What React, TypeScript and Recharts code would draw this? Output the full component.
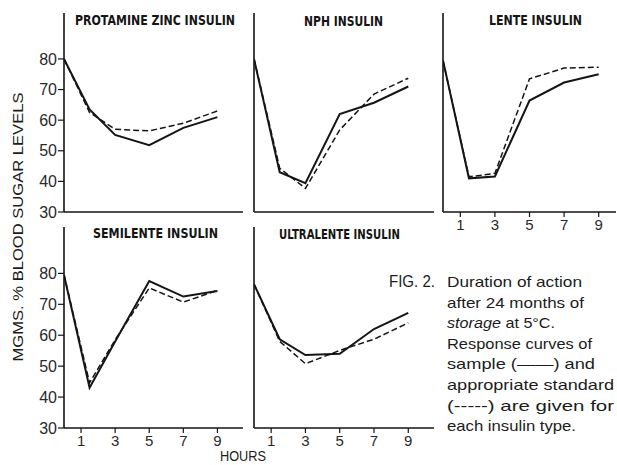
import React from 'react';
import { LineChart, Line, XAxis, YAxis } from 'recharts';

// sampling times (hours) shared by every panel
const hours = [0, 1.5, 3, 5, 7, 9];
const hourTicks = [1, 3, 5, 7, 9];
const sugarTicks = [30, 40, 50, 60, 70, 80];

const protamineSample = [80, 63.5, 55.2, 51.8, 57.5, 61];
const protamineStandard = [80, 62.5, 57, 56.5, 59, 63];
const nphSample = [80, 43, 39.4, 62, 65.7, 71];
const nphStandard = [80, 44.3, 37.7, 56.8, 68.5, 73.7];
const lenteSample = [79.5, 41, 41.6, 66.4, 72.3, 75];
const lenteStandard = [79.5, 41.5, 42.6, 73.5, 77, 77.3];
const semilenteSample = [79.5, 43, 58, 77.5, 72.5, 74.3];
const semilenteStandard = [79.5, 44.6, 58.5, 75.3, 70.7, 74.5];
const ultralenteSample = [76.5, 58.7, 53.6, 54, 62, 67.2];
const ultralenteStandard = [76.5, 58, 50.8, 55.1, 58.7, 64];

const captionLines = [
  'Duration of action',
  'after 24 months of',
  'storage at 5°C.',
  'Response curves of',
  'sample (——) and',
  'appropriate standard',
  '(-----) are given for',
  'each insulin type.',
];

const INK = '#151515';
const Y_W = 60;
const M = { top: 5, right: 5, left: 0, bottom: 0 };
const X_H = 30;

interface PanelProps {
  plotLeft: number;
  plotTop: number;
  plotW: number;
  plotH: number;
  xMax: number;
  sample: number[];
  standard: number[];
  showX?: boolean;
  showY?: boolean;
}

const Panel: React.FC<PanelProps> = ({
  plotLeft,
  plotTop,
  plotW,
  plotH,
  xMax,
  sample,
  standard,
  showX = false,
  showY = false,
}) => {
  const data = hours.map((h, i) => ({ h, sample: sample[i], standard: standard[i] }));
  const w = Y_W + plotW + M.right;
  const h = M.top + plotH + X_H;
  return (
    <div style={{ position: 'absolute', left: plotLeft - Y_W, top: plotTop - M.top }}>
      <LineChart width={w} height={h} data={data} margin={M}>
        <XAxis
          dataKey="h"
          type="number"
          domain={[0, xMax]}
          ticks={hourTicks}
          allowDataOverflow
          height={X_H}
          axisLine={{ stroke: INK, strokeWidth: 1.6 }}
          tickLine={showX ? { stroke: INK, strokeWidth: 1.2 } : false}
          tickSize={5}
          tickMargin={2}
          tick={showX ? { fill: '#2a2a2a', fontSize: 15, fontFamily: 'Liberation Sans, Arial' } : false}
        />
        <YAxis
          type="number"
          domain={[30, 95]}
          ticks={sugarTicks}
          allowDataOverflow
          width={Y_W}
          axisLine={{ stroke: INK, strokeWidth: 1.6 }}
          tickLine={showY ? { stroke: INK, strokeWidth: 1.2 } : false}
          tickSize={6}
          tickMargin={1}
          tick={showY ? { fill: '#2a2a2a', fontSize: 16, fontFamily: 'Liberation Sans, Arial' } : false}
        />
        <Line
          dataKey="standard"
          type="linear"
          stroke={INK}
          strokeWidth={1.5}
          strokeDasharray="6 3"
          dot={false}
          isAnimationActive={false}
        />
        <Line
          dataKey="sample"
          type="linear"
          stroke={INK}
          strokeWidth={2}
          dot={false}
          isAnimationActive={false}
        />
      </LineChart>
    </div>
  );
};

const titleStyle: React.SVGProps<SVGTextElement> = {
  fontFamily: 'DejaVu Sans, sans-serif',
  fontWeight: 'bold',
  fontSize: 14,
  fill: INK,
  lengthAdjust: 'spacingAndGlyphs',
};

const capStyle = {
  fontFamily: 'Liberation Sans, Arial, sans-serif',
  fontSize: 15,
  fill: '#1c1c1c',
};

// right edges of the caption lines (justified block)
const capRight = [582, 584, 555, 592, 595, 614, 614, 576];

export default function App() {
  return (
    <div
      style={{
        position: 'absolute',
        left: 0,
        top: 0,
        width: 617,
        height: 465,
        overflow: 'hidden',
        background: '#fff',
      }}
    >
      <Panel plotLeft={64} plotTop={13} plotW={179} plotH={199} xMax={10.5}
        sample={protamineSample} standard={protamineStandard} showY />
      <Panel plotLeft={254} plotTop={13} plotW={180} plotH={199} xMax={10.5}
        sample={nphSample} standard={nphStandard} />
      <Panel plotLeft={443} plotTop={13} plotW={173} plotH={199} xMax={10}
        sample={lenteSample} standard={lenteStandard} showX />
      <Panel plotLeft={64} plotTop={227} plotW={179} plotH={201} xMax={10.5}
        sample={semilenteSample} standard={semilenteStandard} showX showY />
      <Panel plotLeft={254} plotTop={227} plotW={180} plotH={201} xMax={10.5}
        sample={ultralenteSample} standard={ultralenteStandard} showX />

      <svg
        width={617}
        height={465}
        style={{ position: 'absolute', left: 0, top: 0, pointerEvents: 'none' }}
      >
        <text x={75} y={25} textLength={160} {...titleStyle}>PROTAMINE ZINC INSULIN</text>
        <text x={304} y={26} textLength={79} {...titleStyle}>NPH INSULIN</text>
        <text x={489} y={25} textLength={93} {...titleStyle}>LENTE INSULIN</text>
        <text x={93} y={238} textLength={125} {...titleStyle}>SEMILENTE INSULIN</text>
        <text x={279} y={239} textLength={121} {...titleStyle}>ULTRALENTE INSULIN</text>

        <text
          transform="translate(23,227) rotate(-90)"
          textAnchor="middle"
          textLength={269}
          lengthAdjust="spacingAndGlyphs"
          {...capStyle}
        >
          MGMS. % BLOOD SUGAR LEVELS
        </text>
        <text x={220} y={461} textLength={46} lengthAdjust="spacingAndGlyphs" {...capStyle} fontSize={15}>
          HOURS
        </text>

        <text x={389} y={287} textLength={46} lengthAdjust="spacingAndGlyphs" {...capStyle} fontSize={16}>
          FIG. 2.
        </text>
        {captionLines.map((line, i) => {
          const italicFirst = i === 2;
          const sp = line.indexOf(' ');
          return (
            <text
              key={line}
              x={447}
              y={287 + i * 20.6}
              textLength={capRight[i] - 447}
              lengthAdjust="spacingAndGlyphs"
              {...capStyle}
            >
              {italicFirst ? (
                <>
                  <tspan fontStyle="italic">{line.slice(0, sp)}</tspan>
                  {line.slice(sp)}
                </>
              ) : (
                line
              )}
            </text>
          );
        })}
      </svg>
    </div>
  );
}
